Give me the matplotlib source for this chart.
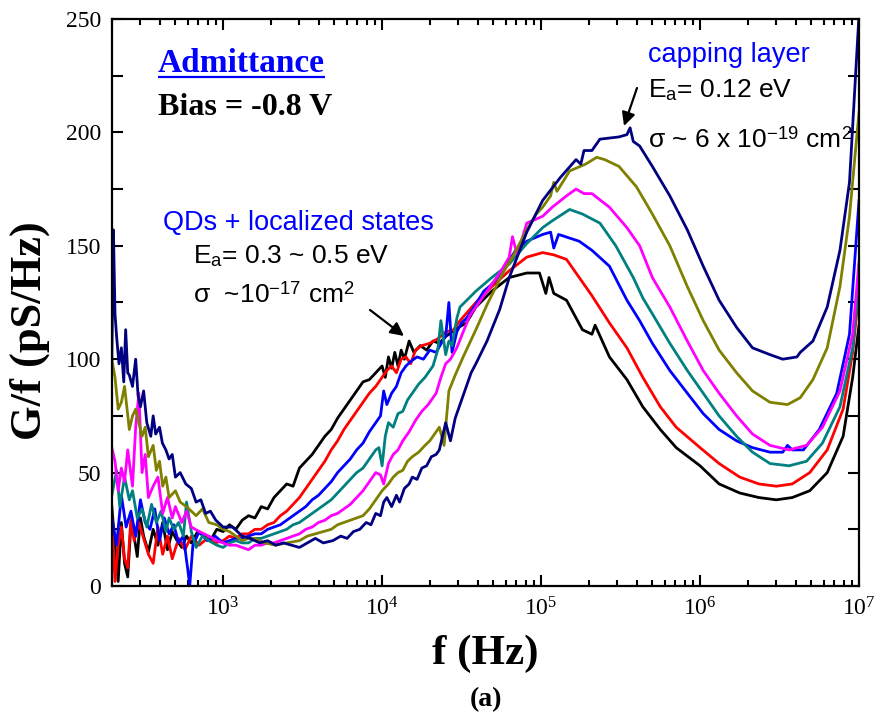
import matplotlib
matplotlib.use('Agg')
import matplotlib.pyplot as plt
import numpy as np
from matplotlib.ticker import MultipleLocator, LogLocator, NullFormatter

# G/f vs frequency (x stored as log10 f, y in pS/Hz)
# each curve: low-frequency noise + rising part + peak / minimum / upturn
black_logf = ([2.30, 2.32, 2.34, 2.36, 2.38, 2.40, 2.42, 2.44, 2.46, 2.48, 2.50, 2.53, 2.56, 2.59, 2.62,
               2.65, 2.68, 2.71, 2.74, 2.77, 2.80, 2.84, 2.88, 2.92, 2.96]
              + [3.00, 3.04, 3.08, 3.12, 3.16, 3.20, 3.24, 3.28, 3.32, 3.36, 3.40, 3.44, 3.48, 3.52, 3.56,
                 3.60, 3.64, 3.68, 3.72, 3.76, 3.80, 3.84, 3.88, 3.92, 3.96, 4.00, 4.02, 4.04, 4.06, 4.08,
                 4.10, 4.12, 4.14, 4.17, 4.20, 4.24, 4.28, 4.32, 4.36, 4.40, 4.44, 4.48, 4.53]
              + [4.59, 4.69, 4.80, 4.91, 4.99, 5.03, 5.05, 5.08, 5.16, 5.26, 5.32, 5.34, 5.43, 5.54, 5.64,
                 5.75, 5.85, 6.00, 6.12, 6.25, 6.37, 6.48, 6.58, 6.69, 6.80, 6.90, 6.96, 7.00])
black_g = ([35, 18, 2, 28, 10, 4, 27, 22, 13, 30, 22, 15, 25, 18, 28,
            16, 24, 20, 17, 22, 19, 24, 22, 20, 25]
           + [24, 27, 25, 29, 31, 30, 35, 34, 39, 42, 45, 44, 52, 55, 58,
              62, 66, 69, 74, 78, 82, 86, 90, 91, 94, 97, 92, 101, 96, 103,
              97, 104, 100, 108, 103, 106, 104, 108, 107, 110, 112, 114, 116]
           + [123, 130, 136, 138, 138, 129, 136, 129, 126, 113, 111, 115, 101, 91, 79,
              69, 61, 53, 45, 41, 39, 38, 39, 42, 50, 66, 92, 115])

red_logf = ([2.30, 2.32, 2.34, 2.36, 2.38, 2.40, 2.42, 2.44, 2.47, 2.50, 2.53, 2.56, 2.59, 2.62, 2.65,
             2.68, 2.72, 2.76, 2.80, 2.85, 2.90, 2.95]
            + [3.00, 3.04, 3.08, 3.12, 3.16, 3.20, 3.24, 3.28, 3.32, 3.36, 3.40, 3.44, 3.48, 3.52, 3.56,
               3.60, 3.64, 3.68, 3.72, 3.76, 3.80, 3.84, 3.88, 3.92, 3.96, 4.00, 4.03, 4.06, 4.09, 4.12,
               4.15, 4.18, 4.21, 4.25, 4.30, 4.35, 4.40, 4.45, 4.49]
            + [4.59, 4.69, 4.80, 4.91, 5.01, 5.08, 5.16, 5.24, 5.32, 5.43, 5.54, 5.64, 5.75, 5.85, 6.00,
               6.12, 6.25, 6.37, 6.48, 6.58, 6.69, 6.80, 6.90, 6.96, 7.00])
red_g = ([30, 2, 18, 26, 12, 8, 30, 20, 28, 21, 14, 10, 26, 14, 22,
          12, 21, 16, 22, 18, 21, 19]
         + [20, 22, 21, 23, 23, 25, 25, 27, 28, 31, 33, 36, 39, 43, 47,
            51, 55, 60, 64, 69, 73, 77, 81, 85, 88, 92, 95, 97, 94, 100,
            101, 98, 104, 106, 107, 109, 112, 113, 117]
         + [125, 132, 139, 145, 147, 146, 144, 136, 128, 116, 105, 92, 79, 70, 61,
            54, 48, 45, 44, 45, 50, 60, 78, 103, 130])

blue_logf = ([2.30, 2.33, 2.36, 2.39, 2.42, 2.45, 2.48, 2.51, 2.54, 2.57, 2.60, 2.63, 2.66, 2.69, 2.72,
              2.75, 2.78, 2.79, 2.81, 2.85, 2.90, 2.95]
             + [3.00, 3.04, 3.08, 3.12, 3.16, 3.20, 3.24, 3.28, 3.32, 3.36, 3.40, 3.44, 3.48, 3.52, 3.56,
                3.60, 3.64, 3.68, 3.72, 3.76, 3.80, 3.84, 3.88, 3.92, 3.96, 3.99, 4.01, 4.03, 4.06, 4.09,
                4.12, 4.15, 4.18, 4.22, 4.26, 4.30, 4.34, 4.38, 4.40, 4.42, 4.44, 4.47, 4.50, 4.53, 4.57]
             + [4.64, 4.69, 4.76, 4.84, 4.91, 5.01, 5.06, 5.08, 5.11, 5.24, 5.32, 5.43, 5.54, 5.62, 5.70,
                5.81, 5.92, 6.02, 6.12, 6.23, 6.33, 6.44, 6.52, 6.55, 6.58, 6.65, 6.75, 6.86, 6.94, 7.00])
blue_g = ([30, 18, 40, 26, 33, 22, 38, 28, 25, 34, 20, 30, 23, 27, 19,
           22, 6, 0, 18, 24, 20, 22]
          + [19, 20, 21, 21, 22, 23, 23, 25, 26, 27, 29, 31, 33, 35, 38,
             40, 43, 46, 50, 53, 56, 60, 63, 68, 72, 75, 86, 80, 85, 88,
             94, 97, 99, 101, 100, 104, 103, 108, 110, 125, 103, 112, 116, 118, 122]
          + [130, 133, 139, 148, 152, 155, 156, 149, 155, 152, 148, 141, 126, 117, 107,
             95, 85, 76, 69, 64, 61, 59, 59, 62, 60, 60, 69, 85, 111, 170])

teal_logf = ([2.30, 2.33, 2.35, 2.38, 2.41, 2.43, 2.46, 2.49, 2.52, 2.55, 2.58, 2.61, 2.64, 2.66, 2.69,
              2.72, 2.75, 2.77, 2.80, 2.83, 2.87, 2.91, 2.96]
             + [3.00, 3.04, 3.08, 3.12, 3.16, 3.20, 3.24, 3.28, 3.32, 3.36, 3.40, 3.44, 3.48, 3.52, 3.56,
                3.60, 3.64, 3.68, 3.72, 3.76, 3.80, 3.84, 3.88, 3.92, 3.96, 3.98, 4.00, 4.02, 4.04, 4.07,
                4.10, 4.13, 4.16, 4.19, 4.23, 4.27, 4.32, 4.35, 4.37, 4.40, 4.42, 4.44, 4.47, 4.49]
             + [4.59, 4.69, 4.80, 4.91, 5.01, 5.07, 5.18, 5.26, 5.37, 5.47, 5.58, 5.64, 5.70, 5.81, 5.92,
                6.02, 6.12, 6.23, 6.33, 6.44, 6.56, 6.67, 6.77, 6.88, 6.96, 7.00])
teal_g = ([40, 51, 35, 48, 38, 42, 30, 34, 26, 36, 28, 33, 24, 30, 25,
           28, 22, 37, 24, 17, 22, 20, 18]
          + [17, 19, 20, 19, 19, 21, 21, 22, 23, 24, 25, 27, 28, 30, 32,
             34, 36, 38, 41, 44, 47, 50, 52, 56, 60, 61, 53, 66, 72, 70,
             76, 77, 82, 85, 89, 92, 97, 104, 117, 102, 108, 106, 118, 123]
          + [130, 136, 142, 151, 158, 161, 166, 164, 160, 150, 136, 127, 120, 107, 95,
             85, 75, 66, 59, 54, 53, 55, 63, 79, 105, 135])

magenta_logf = ([2.30, 2.32, 2.34, 2.36, 2.38, 2.40, 2.43, 2.45, 2.47, 2.49, 2.51, 2.53, 2.56, 2.59, 2.62,
                 2.65, 2.68, 2.70, 2.74, 2.77, 2.80, 2.85, 2.91, 2.96]
                + [3.00, 3.04, 3.08, 3.12, 3.16, 3.20, 3.24, 3.28, 3.32, 3.36, 3.40, 3.44, 3.48, 3.52, 3.56,
                   3.60, 3.64, 3.68, 3.72, 3.76, 3.80, 3.84, 3.88, 3.92, 3.96, 3.99, 4.01, 4.04, 4.07, 4.10,
                   4.13, 4.17, 4.21, 4.25, 4.29, 4.34, 4.37, 4.40, 4.43, 4.47, 4.51, 4.55]
                + [4.63, 4.74, 4.80, 4.82, 4.85, 4.91, 5.01, 5.07, 5.16, 5.22, 5.27, 5.32, 5.43, 5.54, 5.62,
                   5.70, 5.81, 5.92, 6.02, 6.12, 6.23, 6.33, 6.44, 6.56, 6.67, 6.77, 6.88, 6.96, 7.00])
magenta_g = ([61, 55, 42, 52, 46, 60, 44, 70, 85, 50, 58, 39, 44, 48, 32,
              39, 30, 35, 28, 33, 26, 24, 22, 20]
             + [19, 18, 18, 17, 16, 18, 18, 19, 19, 20, 21, 22, 23, 25, 26,
                28, 29, 31, 32, 34, 36, 39, 42, 46, 50, 49, 45, 54, 58, 60,
                64, 68, 73, 77, 80, 85, 92, 98, 100, 105, 112, 119]
             + [127, 138, 145, 154, 146, 160, 163, 167, 172, 175, 173, 173, 167, 158, 150,
                136, 123, 108, 95, 85, 75, 67, 62, 60, 62, 70, 86, 111, 143])

olive_logf = ([2.30, 2.32, 2.34, 2.36, 2.38, 2.41, 2.43, 2.45, 2.47, 2.49, 2.51, 2.53, 2.56, 2.58, 2.60,
               2.62, 2.64, 2.66, 2.70, 2.73, 2.77, 2.80, 2.83, 2.87, 2.91, 2.96]
              + [3.00, 3.04, 3.08, 3.12, 3.16, 3.20, 3.26, 3.33, 3.40, 3.48, 3.53, 3.58, 3.63, 3.68, 3.72,
                 3.76, 3.80, 3.84, 3.88, 3.92, 3.96, 4.00, 4.04, 4.07, 4.10, 4.13, 4.16, 4.19, 4.23, 4.27,
                 4.30, 4.33, 4.36, 4.39, 4.42, 4.46, 4.51, 4.55, 4.59]
              + [4.66, 4.76, 4.82, 4.91, 4.97, 5.01, 5.06, 5.08, 5.10, 5.18, 5.28, 5.35, 5.40, 5.49, 5.60,
                 5.70, 5.81, 5.92, 6.02, 6.12, 6.23, 6.33, 6.44, 6.55, 6.63, 6.71, 6.80, 6.88, 6.94, 7.00])
olive_g = ([100, 92, 78, 81, 88, 69, 75, 78, 72, 66, 70, 57, 62, 51, 55,
            44, 48, 39, 42, 37, 35, 33, 31, 34, 28, 27]
           + [25, 24, 22, 20, 21, 21, 19, 18, 19, 20, 22, 23, 24, 25, 27,
              28, 29, 30, 31, 34, 38, 42, 45, 48, 50, 51, 55, 57, 59, 62,
              64, 67, 70, 62, 86, 93, 101, 107, 113]
           + [124, 138, 145, 157, 164, 167, 172, 178, 174, 183, 186, 189, 188, 185, 176,
              164, 150, 132, 117, 104, 94, 86, 81, 80, 83, 91, 105, 132, 163, 209])

navy_logf = ([2.30, 2.31, 2.32, 2.33, 2.345, 2.36, 2.375, 2.387, 2.40, 2.41, 2.43, 2.45, 2.465, 2.48, 2.50,
              2.52, 2.545, 2.56, 2.576, 2.60, 2.618, 2.64, 2.66, 2.68, 2.70, 2.73, 2.765, 2.80, 2.83, 2.86,
              2.89, 2.92, 2.954]
             + [3.00, 3.06, 3.12, 3.17, 3.23, 3.28, 3.33, 3.38, 3.43, 3.48, 3.53, 3.58, 3.63, 3.69, 3.74,
                3.78, 3.82, 3.86, 3.90, 3.93, 3.96, 3.99, 4.01, 4.03, 4.06, 4.09, 4.11, 4.14, 4.17, 4.19,
                4.22, 4.25, 4.28, 4.31, 4.34, 4.36, 4.38, 4.40, 4.43, 4.46, 4.49, 4.53, 4.56, 4.59]
             + [4.66, 4.74, 4.80, 4.91, 5.01, 5.12, 5.22, 5.25, 5.27, 5.32, 5.37, 5.49, 5.54, 5.56, 5.58,
                5.62, 5.70, 5.81, 5.92, 6.02, 6.12, 6.23, 6.33, 6.44, 6.52, 6.61, 6.63, 6.71, 6.80, 6.88,
                6.94, 7.00])
navy_g = ([100, 157, 120, 110, 98, 105, 90, 113, 94, 93, 88, 100, 84, 79, 86,
           72, 66, 75, 67, 70, 63, 60, 56, 58, 48, 50, 45, 43, 37, 38,
           32, 33, 29]
          + [26, 26, 22, 21, 19, 20, 18, 19, 18, 17, 19, 21, 19, 20, 22,
             21, 24, 25, 28, 27, 32, 31, 37, 39, 35, 40, 37, 43, 45, 48,
             47, 52, 53, 57, 58, 60, 66, 72, 64, 74, 80, 88, 94, 98]
          + [108, 122, 136, 156, 170, 180, 188, 186, 192, 192, 197, 198, 199, 202, 196,
             194, 185, 172, 157, 141, 126, 114, 105, 102, 100, 101, 103, 108, 123, 148,
             178, 252])

curves = [
    (black_logf, black_g, '#000000'),
    (red_logf, red_g, '#ff0000'),
    (blue_logf, blue_g, '#0000ff'),
    (teal_logf, teal_g, '#008080'),
    (magenta_logf, magenta_g, '#ff00ff'),
    (olive_logf, olive_g, '#808000'),
    (navy_logf, navy_g, '#000080'),
]

plt.rcParams['font.family'] = 'Liberation Serif'
plt.rcParams['mathtext.fontset'] = 'custom'
plt.rcParams['mathtext.rm'] = 'Liberation Serif'
plt.rcParams['mathtext.bf'] = 'Liberation Serif:bold'
plt.rcParams['mathtext.it'] = 'Liberation Serif:italic'
plt.rcParams['mathtext.sf'] = 'Liberation Sans'

fig = plt.figure(figsize=(8.77, 7.24), dpi=100)
ax = fig.add_axes([0.1277, 0.1906, 0.8518, 0.7832])

for lf, g, c in curves:
    ax.plot(10 ** np.array(lf), g, color=c, lw=2.0)

ax.set_xscale('log')
ax.set_xlim(200, 1e7)
ax.set_ylim(0, 250)
ax.yaxis.set_major_locator(MultipleLocator(50))
ax.yaxis.set_minor_locator(MultipleLocator(25))
ax.xaxis.set_minor_locator(LogLocator(base=10, subs=np.arange(2, 10) * 1.0, numticks=20))
ax.xaxis.set_minor_formatter(NullFormatter())

ax.tick_params(which='both', direction='in', top=True, right=True, width=1.5)
ax.tick_params(which='major', length=8, labelsize=17, pad=8)
ax.tick_params(axis='y', which='minor', length=8)
ax.tick_params(axis='x', which='minor', length=4.5)
for s in ax.spines.values():
    s.set_linewidth(1.6)

ax.set_xlabel('f (Hz)', fontsize=31, fontweight='bold')
ax.xaxis.set_label_coords(0.5, -0.085)
ax.set_ylabel('G/f (pS/Hz)', fontsize=32, fontweight='bold')
ax.yaxis.set_label_coords(-0.083, 0.45)

# text annotations
title = ax.text(0.0616, 0.9065, 'Admittance', color='#0000ff', fontsize=24, fontweight='bold',
                transform=ax.transAxes, va='baseline')
ax.text(0.0616, 0.8307, 'Bias = -0.8 V', fontsize=23, fontweight='bold',
        transform=ax.transAxes, va='baseline')

# underline under "Admittance"
renderer = fig.canvas.get_renderer()
bb = title.get_window_extent(renderer=renderer).transformed(ax.transAxes.inverted())
ax.plot([bb.x0, bb.x1], [0.9065 - 0.008, 0.9065 - 0.008], color='#0000ff', lw=1.6,
        transform=ax.transAxes, solid_capstyle='butt')

sans = 'Liberation Sans'
ax.text(0.0683, 0.628, 'QDs + localized states', color='#0000ff', fontsize=19.5, family=sans,
        transform=ax.transAxes, va='baseline')
ax.text(0.1084, 0.5697, r'E$_{\mathsf{a}}$= 0.3 ~ 0.5 eV', fontsize=19, family=sans,
        transform=ax.transAxes, va='baseline')
ax.text(0.1084, 0.4991, r'σ  ~10$^{\mathsf{-17}}$ cm$^{\mathsf{2}}$', fontsize=19, family=sans,
        transform=ax.transAxes, va='baseline')

ax.text(0.7175, 0.924, 'capping layer', color='#0000ff', fontsize=19.5, family=sans,
        transform=ax.transAxes, va='baseline')
ax.text(0.7175, 0.862, r'E$_{\mathsf{a}}$= 0.12 eV', fontsize=19, family=sans,
        transform=ax.transAxes, va='baseline')
ax.text(0.7175, 0.774, r'σ ~ 6 x 10$^{\mathsf{-19}}$ cm$^{\mathsf{2}}$', fontsize=19, family=sans,
        transform=ax.transAxes, va='baseline')

arrow = dict(arrowstyle='-|>', lw=1.6, color='k', mutation_scale=20, shrinkA=0, shrinkB=0)
ax.annotate('', xy=(0.3909, 0.4409), xytext=(0.3454, 0.4868),
            xycoords='axes fraction', textcoords='axes fraction', arrowprops=arrow)
ax.annotate('', xy=(0.6854, 0.8113), xytext=(0.7028, 0.8783),
            xycoords='axes fraction', textcoords='axes fraction', arrowprops=arrow)

fig.text(0.554, 0.033, '(a)', ha='center', va='center', fontsize=20, fontweight='bold')

fig.savefig('out.png', dpi=100)
